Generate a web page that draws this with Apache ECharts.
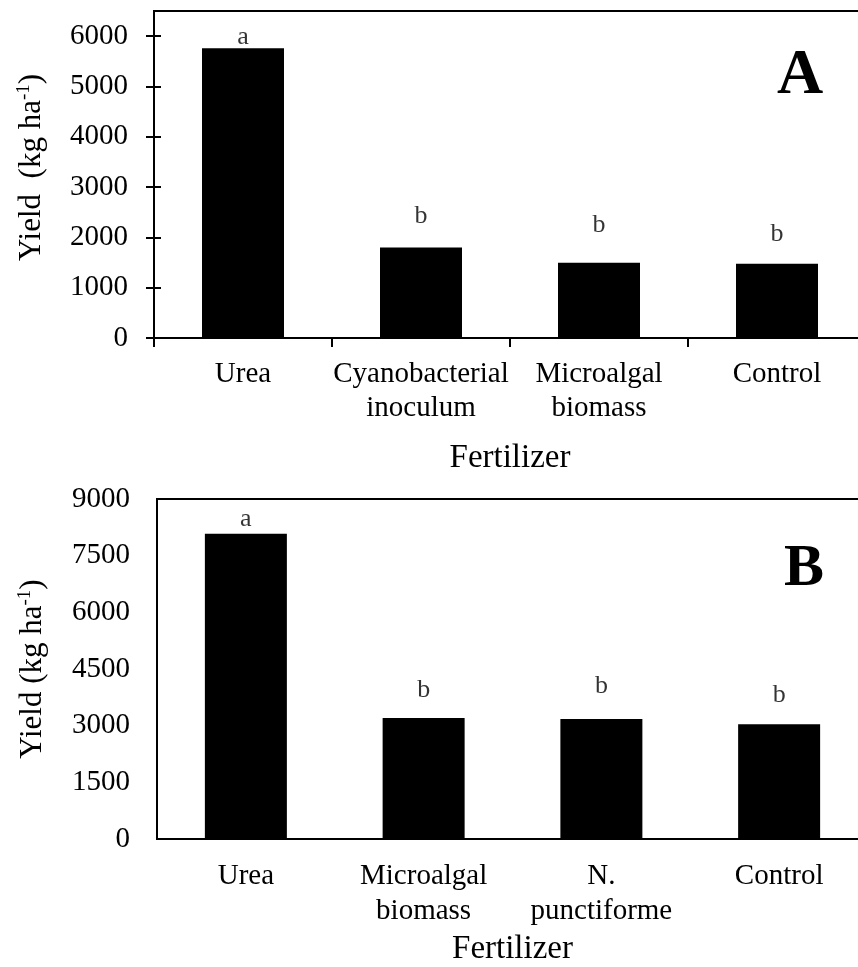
<!DOCTYPE html>
<html>
<head>
<meta charset="utf-8">
<script src="https://cdn.jsdelivr.net/npm/echarts@6/dist/echarts.min.js"></script>
<style>
html,body{margin:0;padding:0;background:#fff;overflow:hidden;}
#c{width:880px;height:967px;}
</style>
</head>
<body>
<div id="c"></div>
<script>
// Panel A data
const catsA = ['Urea', 'Cyanobacterial\ninoculum', 'Microalgal\nbiomass', 'Control'];
const yieldA = [5760, 1800, 1495, 1475];
const lettersA = ['a', 'b', 'b', 'b'];
const letterPosA = [5710, 2160, 1970, 1790];
const ticksA = [0, 1000, 2000, 3000, 4000, 5000, 6000];

// Panel B data
const catsB = ['Urea', 'Microalgal\nbiomass', 'N.\npunctiforme', 'Control'];
const yieldB = [8080, 3200, 3175, 3040];
const lettersB = ['a', 'b', 'b', 'b'];
const letterPosB = [8115, 3595, 3675, 3460];
const ticksB = [0, 1500, 3000, 4500, 6000, 7500, 9000];

const FF = '"Liberation Serif", "Times New Roman", serif';
const chart = echarts.init(document.getElementById('c'), null, {renderer: 'canvas', width: 880, height: 967});

const plain = (v) => String(v);

const yName = (txt, pad) => ({
  name: txt,
  nameLocation: 'middle',
  nameRotate: 90,
  nameTextStyle: {
    fontFamily: FF, fontSize: 31, color: '#000', lineHeight: 34, padding: pad,
    rich: { sup: { fontFamily: FF, fontSize: 19, color: '#000', verticalAlign: 'top', lineHeight: 34, padding: [0, 0, 14, 0] } }
  }
});

const option = {
  animation: false,
  backgroundColor: '#fff',
  grid: [
    { left: 154, top: 11, width: 712, height: 327, show: true, borderColor: '#000', borderWidth: 2, backgroundColor: 'transparent', containLabel: false },
    { left: 157, top: 499, width: 711, height: 342, show: true, borderColor: '#000', borderWidth: 2, backgroundColor: 'transparent', containLabel: false }
  ],
  xAxis: [
    {
      gridIndex: 0, type: 'category', data: catsA,
      axisLine: { lineStyle: { color: '#000', width: 2 } },
      axisTick: { show: true, length: 9, inside: false, alignWithLabel: false, lineStyle: { color: '#000', width: 2 } },
      axisLabel: { fontFamily: FF, fontSize: 29, color: '#000', margin: 19, lineHeight: 34, interval: 0 },
      name: 'Fertilizer', nameLocation: 'middle', nameGap: 104,
      nameTextStyle: { fontFamily: FF, fontSize: 33, color: '#000' }
    },
    {
      gridIndex: 1, type: 'category', data: catsB,
      axisLine: { lineStyle: { color: '#000', width: 2 } },
      axisTick: { show: false },
      axisLabel: { fontFamily: FF, fontSize: 29, color: '#000', margin: 20, lineHeight: 35, interval: 0 },
      name: 'Fertilizer', nameLocation: 'middle', nameGap: 94,
      nameTextStyle: { fontFamily: FF, fontSize: 33, color: '#000' }
    }
  ],
  yAxis: [
    Object.assign({
      gridIndex: 0, type: 'value', min: 0, max: 6500, interval: 1000,
      axisLine: { show: true, lineStyle: { color: '#000', width: 2 } },
      axisTick: { show: true, inside: false, length: 8, customValues: ticksA, lineStyle: { color: '#000', width: 2 } },
      axisLabel: { fontFamily: FF, fontSize: 29, color: '#000', margin: 26, customValues: ticksA, formatter: plain },
      splitLine: { show: false },
      nameGap: 105
    }, yName('Yield  (kg ha{sup|-1})', [0, 0, 0, 14])),
    {
      gridIndex: 0, type: 'value', min: 0, max: 6500, interval: 1000, position: 'left',
      axisLine: { show: false },
      axisTick: { show: true, inside: true, length: 7, customValues: ticksA, lineStyle: { color: '#000', width: 2 } },
      axisLabel: { show: false },
      splitLine: { show: false }
    },
    Object.assign({
      gridIndex: 1, type: 'value', min: 0, max: 9000, interval: 1500,
      axisLine: { show: true, lineStyle: { color: '#000', width: 2 } },
      axisTick: { show: false },
      axisLabel: { fontFamily: FF, fontSize: 29, color: '#000', margin: 27, customValues: ticksB, formatter: plain },
      splitLine: { show: false },
      nameGap: 107
    }, yName('Yield (kg ha{sup|-1})', [0, 0, 0, 0]))
  ],
  series: [
    { type: 'bar', xAxisIndex: 0, yAxisIndex: 0, data: yieldA, barWidth: 82, itemStyle: { color: '#000' }, silent: true },
    {
      type: 'scatter', xAxisIndex: 0, yAxisIndex: 0, data: letterPosA, symbolSize: 1,
      itemStyle: { color: 'transparent' }, silent: true,
      label: { show: true, position: 'top', distance: 0, fontFamily: FF, fontSize: 26, color: '#000',
        formatter: (p) => lettersA[p.dataIndex] }
    },
    { type: 'bar', xAxisIndex: 1, yAxisIndex: 2, data: yieldB, barWidth: 82, itemStyle: { color: '#000' }, silent: true },
    {
      type: 'scatter', xAxisIndex: 1, yAxisIndex: 2, data: letterPosB, symbolSize: 1,
      itemStyle: { color: 'transparent' }, silent: true,
      label: { show: true, position: 'top', distance: 0, fontFamily: FF, fontSize: 26, color: '#000',
        formatter: (p) => lettersB[p.dataIndex] }
    }
  ],
  graphic: [
    { type: 'text', silent: true, style: { x: 800, y: 76, text: 'A', fill: '#000', font: 'bold 64px "Liberation Serif", serif', align: 'center', verticalAlign: 'middle' } },
    { type: 'text', silent: true, style: { x: 804, y: 569, text: 'B', fill: '#000', font: 'bold 60px "Liberation Serif", serif', align: 'center', verticalAlign: 'middle' } }
  ]
};
chart.setOption(option);
</script>
</body>
</html>
